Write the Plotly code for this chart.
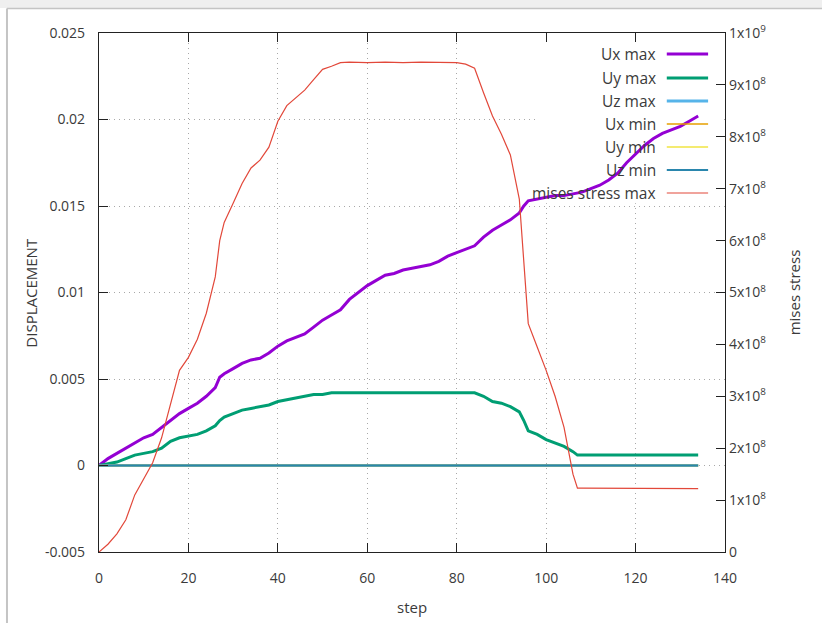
import plotly.graph_objects as go

# ---------------- data ----------------
ux_max_step = [0, 2, 4, 6, 8, 10, 12, 14, 16, 18, 20, 22, 24, 26, 27, 28, 30, 32, 34, 36, 38,
               40, 42, 44, 46, 48, 50, 52, 54, 56, 58, 60, 62, 64, 66, 68, 70, 72, 74, 76, 78,
               80, 82, 84, 86, 88, 90, 92, 94, 95, 96, 98, 100, 102, 104, 106, 108, 110, 112,
               114, 116, 118, 120, 122, 124, 126, 128, 130, 132, 134]
ux_max = [0, 0.0004, 0.0007, 0.0010, 0.0013, 0.0016, 0.0018, 0.0022, 0.0026, 0.0030, 0.0033,
          0.0036, 0.0040, 0.0045, 0.0051, 0.0053, 0.0056, 0.0059, 0.0061, 0.0062, 0.0065,
          0.0069, 0.0072, 0.0074, 0.0076, 0.0080, 0.0084, 0.0087, 0.0090, 0.0096, 0.0100,
          0.0104, 0.0107, 0.0110, 0.0111, 0.0113, 0.0114, 0.0115, 0.0116, 0.0118, 0.0121,
          0.0123, 0.0125, 0.0127, 0.0132, 0.0136, 0.0139, 0.0142, 0.0146, 0.0150, 0.0153,
          0.0154, 0.0155, 0.0156, 0.0156, 0.0157, 0.0158, 0.0160, 0.0162, 0.0165, 0.0169,
          0.0175, 0.0180, 0.0185, 0.0189, 0.0192, 0.0194, 0.0196, 0.0199, 0.0202]

uy_max_step = [0, 2, 4, 6, 8, 10, 12, 14, 16, 18, 20, 22, 24, 26, 27, 28, 30, 32, 34, 36, 38,
               40, 42, 44, 46, 48, 50, 52, 60, 70, 80, 84, 86, 88, 90, 92, 94, 95, 96, 98,
               100, 102, 104, 106, 107, 110, 120, 134]
uy_max = [0, 0.0001, 0.0002, 0.0004, 0.0006, 0.0007, 0.0008, 0.0010, 0.0014, 0.0016, 0.0017,
          0.0018, 0.0020, 0.0023, 0.0026, 0.0028, 0.0030, 0.0032, 0.0033, 0.0034, 0.0035,
          0.0037, 0.0038, 0.0039, 0.0040, 0.0041, 0.0041, 0.0042, 0.0042, 0.0042, 0.0042,
          0.0042, 0.0040, 0.0037, 0.0036, 0.0034, 0.0031, 0.0026, 0.0020, 0.0018, 0.0015,
          0.0013, 0.0011, 0.0008, 0.0006, 0.0006, 0.0006, 0.0006]

flat_step = [0, 134]
uz_max = [0, 0]
ux_min = [0, 0]
uy_min = [0, 0]
uz_min = [0, 0]

mises_step = [0, 2, 4, 6, 8, 10, 12, 14, 16, 17, 18, 20, 22, 24, 26, 27, 28, 30, 32, 34, 36,
              38, 40, 42, 44, 46, 48, 50, 52, 54, 56, 60, 64, 68, 72, 76, 80, 82, 84, 86, 88,
              90, 92, 94, 95, 96, 98, 100, 102, 104, 106, 107, 108, 120, 134]
mises_1e8 = [0, 0.15, 0.35, 0.62, 1.1, 1.4, 1.72, 2.2, 2.85, 3.2, 3.5, 3.75, 4.1, 4.6, 5.3,
             6.0, 6.35, 6.72, 7.1, 7.4, 7.55, 7.8, 8.3, 8.6, 8.75, 8.9, 9.1, 9.3, 9.36, 9.43,
             9.44, 9.43, 9.44, 9.43, 9.44, 9.43, 9.43, 9.4, 9.32, 8.85, 8.4, 8.05, 7.65, 6.8,
             5.5, 4.4, 3.95, 3.5, 3.0, 2.4, 1.5, 1.23, 1.23, 1.23, 1.22]
mises = [v * 1e8 for v in mises_1e8]

y_ticks = [-0.005, 0, 0.005, 0.01, 0.015, 0.02, 0.025]
y_ticktext = ["-0.005", "0", "0.005", "0.01", "0.015", "0.02", "0.025"]
y2_ticks = [0, 1e8, 2e8, 3e8, 4e8, 5e8, 6e8, 7e8, 8e8, 9e8, 1e9]
y2_ticktext = ["0"] + ["%dx10<sup>8</sup>" % i for i in range(1, 10)] + ["1x10<sup>9</sup>"]
x_ticks = [0, 20, 40, 60, 80, 100, 120, 140]

series_names = ["Ux max", "Uy max", "Uz max", "Ux min", "Uy min", "Uz min", "mises stress max"]
colors = ["#9400d3", "#009e73", "#56b4e9", "#e69f00", "#f0e442", "#2a86ad", "#e2483a"]
widths = [3, 3, 3, 1.3, 1.3, 2, 1.2]

FONT = "Open Sans"
TXT = "#3a3a3a"

X_RANGE = [0, 140]
Y_RANGE = [-0.005, 0.025]

fig = go.Figure()

# white key box (covers the grid, stays under the curves, like gnuplot's key)
kx0, kx1, ky0, ky1 = 0.70, 0.995, 0.672, 0.994
bx = [X_RANGE[0] + f * (X_RANGE[1] - X_RANGE[0]) for f in (kx0, kx1, kx1, kx0, kx0)]
by = [Y_RANGE[0] + f * (Y_RANGE[1] - Y_RANGE[0]) for f in (ky0, ky0, ky1, ky1, ky0)]
fig.add_trace(go.Scatter(x=bx, y=by, mode="lines", fill="toself", fillcolor="white",
                         line=dict(width=0, color="white"), hoverinfo="skip", showlegend=False))

xs = [ux_max_step, uy_max_step, flat_step, flat_step, flat_step, flat_step]
ys = [ux_max, uy_max, uz_max, ux_min, uy_min, uz_min]
for i in range(6):
    fig.add_trace(go.Scatter(x=xs[i], y=ys[i], mode="lines", name=series_names[i],
                             line=dict(color=colors[i], width=widths[i]), showlegend=False))
fig.add_trace(go.Scatter(x=mises_step, y=mises, mode="lines", name=series_names[6], yaxis="y2",
                         line=dict(color=colors[6], width=widths[6]), showlegend=False))

# legend drawn gnuplot-style: right-aligned label, sample line on the right
leg_y = [0.9595, 0.9133, 0.869, 0.8247, 0.7803, 0.736, 0.6917]
shapes = [
    # window chrome
    dict(type="rect", xref="paper", yref="paper", x0=-0.2, x1=1.2, y0=1.048, y1=1.08,
         fillcolor="#efefef", line=dict(width=0)),
    dict(type="line", xref="paper", yref="paper", x0=-0.147, x1=1.2, y0=1.047, y1=1.047,
         line=dict(color="#c4c4c4", width=1.5)),
    dict(type="line", xref="paper", yref="paper", x0=-0.147, x1=-0.147, y0=-0.2, y1=1.047,
         line=dict(color="#c4c4c4", width=2)),
]
annotations = []
for i, name in enumerate(series_names):
    annotations.append(dict(xref="paper", yref="paper", x=0.893, y=leg_y[i], text=name,
                            showarrow=False, xanchor="right", yanchor="middle",
                            font=dict(family=FONT, size=15.5, color=TXT)))
    shapes.append(dict(type="line", xref="paper", yref="paper", x0=0.907, x1=0.973,
                       y0=leg_y[i], y1=leg_y[i],
                       line=dict(color=colors[i], width=widths[i])))

annotations += [
    dict(xref="paper", yref="paper", x=-0.110, y=0.5, text="DISPLACEMENT", textangle=-90,
         xanchor="center", yanchor="middle",
         showarrow=False, font=dict(family=FONT, size=15, color=TXT)),
    dict(xref="paper", yref="paper", x=1.11, y=0.5, text="mises stress", textangle=-90,
         xanchor="center", yanchor="middle",
         showarrow=False, font=dict(family=FONT, size=15, color=TXT)),
    dict(xref="paper", yref="paper", x=0.5, y=-0.106, text="step",
         xanchor="center", yanchor="middle",
         showarrow=False, font=dict(family=FONT, size=15, color=TXT)),
]

axis_common = dict(showline=True, linecolor="#222222", linewidth=1.2, ticks="inside",
                   ticklen=9, tickwidth=1, tickcolor="#222222", zeroline=False,
                   automargin=False,
                   tickfont=dict(family=FONT, size=14, color=TXT))

GRID = dict(showgrid=True, gridcolor="#a8a8a8", griddash="1px,4px", gridwidth=1)

fig.update_layout(
    width=822, height=623,
    margin=dict(l=99, r=97, t=33, b=71, autoexpand=False),
    paper_bgcolor="white", plot_bgcolor="white",
    xaxis=dict(range=X_RANGE, tickvals=x_ticks, mirror="ticks", ticklabelstandoff=13,
               **GRID, **axis_common),
    yaxis=dict(range=Y_RANGE, tickvals=y_ticks, ticktext=y_ticktext, ticklabelstandoff=10,
               **GRID, **axis_common),
    yaxis2=dict(range=[0, 1e9], tickvals=y2_ticks, ticktext=y2_ticktext, overlaying="y",
                side="right", showgrid=False, ticklabelstandoff=0, **axis_common),
    shapes=shapes,
    annotations=annotations,
    showlegend=False,
)

fig.write_html("out.html", config={"displayModeBar": False},
               post_script="document.body.style.margin='0px';")
